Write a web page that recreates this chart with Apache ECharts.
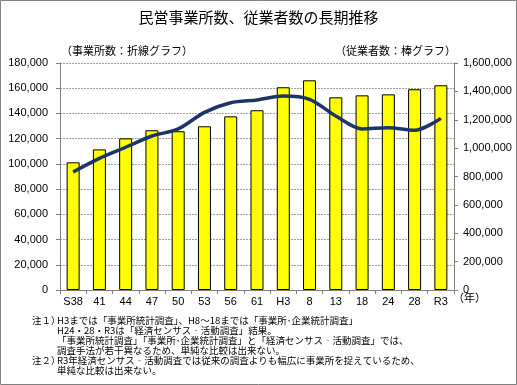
<!DOCTYPE html>
<html><head><meta charset="utf-8">
<script src="https://cdn.jsdelivr.net/npm/echarts@6/dist/echarts.min.js"></script>
<style>html,body{margin:0;padding:0;background:#fff}#c{width:517px;height:385px}</style>
</head><body><div id="c"></div>
<script>
const categories = ['S38','41','44','47','50','53','56','61','H3','8','13','18','24','28','R3'];
const establishments = [93600,104400,113200,122100,127700,140900,148500,150700,153800,151200,138000,127700,128700,126600,136100];
const employees = [900000,991000,1069000,1126000,1119000,1154000,1224000,1267000,1429000,1478000,1358000,1372000,1379000,1415000,1443000];
const leftTicks = {min:0,max:180000,interval:20000};
const rightTicks = {min:0,max:1600000,interval:200000};
const notes = [
 ['注１）','H3までは「事業所統計調査」、H8～18までは「事業所･企業統計調査」'],
 ['','H24・28・R3は「経済センサス‐活動調査」結果。'],
 ['','「事業所統計調査」「事業所･企業統計調査」と「経済センサス‐活動調査」では、'],
 ['','調査手法が若干異なるため、単純な比較は出来ない。'],
 ['注２）','R3年経済センサス‐活動調査では従来の調査よりも幅広に事業所を捉えているため、'],
 ['','単純な比較は出来ない。']
];
const FONT = '"Liberation Sans","Noto Sans CJK JP",sans-serif';
const JFONT = '"Noto Sans CJK JP",sans-serif';
const fmt = v => v.toLocaleString('en-US');
const chart = echarts.init(document.getElementById('c'));
const graphics = [
  {type:'rect',shape:{x:0.5,y:0.5,width:516,height:384},style:{fill:'none',stroke:'#808080',lineWidth:1},silent:true},
  {type:'text',left:'center',top:10,style:{text:'民営事業所数、従業者数の長期推移',font:'15px '+JFONT,fill:'#000'}},
  {type:'text',left:61,top:45,style:{text:'（事業所数：折線グラフ）',font:'11px '+JFONT,fill:'#000'}},
  {type:'text',left:335,top:45,style:{text:'（従業者数：棒グラフ）',font:'11px '+JFONT,fill:'#000'}},
  {type:'text',left:453,top:292,style:{text:'（年）',font:'11px '+JFONT,fill:'#000'}}
];
notes.forEach((n,i)=>{
  if(n[0]) graphics.push({type:'text',left:32,top:316+i*10,style:{text:n[0],font:'9.5px '+JFONT,fill:'#000'}});
  graphics.push({type:'text',left:57,top:316+i*10,style:{text:n[1],font:'9.5px '+JFONT,fill:'#000'}});
});
chart.setOption({
  animation:false,
  backgroundColor:'#fff',
  grid:{left:60,right:63,top:63,bottom:95},
  graphic:graphics,
  xAxis:{type:'category',data:categories,
    axisLine:{lineStyle:{color:'#808080'}},
    axisTick:{show:true,length:4,lineStyle:{color:'#808080'}},
    axisLabel:{color:'#000',fontSize:11,fontFamily:FONT,margin:6}},
  yAxis:[
    {type:'value',min:leftTicks.min,max:leftTicks.max,interval:leftTicks.interval,position:'left',
     axisLine:{show:true,lineStyle:{color:'#808080'}},
     axisTick:{show:true,length:4,lineStyle:{color:'#808080'}},
     axisLabel:{color:'#000',fontSize:11,fontFamily:FONT,margin:12,formatter:fmt},
     splitLine:{show:true,lineStyle:{color:'#a0a0a0',type:[2,1],width:1}}},
    {type:'value',min:rightTicks.min,max:rightTicks.max,interval:rightTicks.interval,position:'right',
     axisLine:{show:true,lineStyle:{color:'#808080'}},
     axisTick:{show:true,length:4,lineStyle:{color:'#808080'}},
     axisLabel:{color:'#000',fontSize:11,fontFamily:FONT,margin:9,formatter:fmt},
     splitLine:{show:false}}
  ],
  series:[
    {type:'bar',yAxisIndex:1,data:employees,barWidth:13,
     itemStyle:{color:'#ffff00',borderColor:'#000',borderWidth:1}},
    {type:'line',yAxisIndex:0,data:establishments,smooth:0.3,symbol:'none',
     lineStyle:{color:'#1c3468',width:3.5}}
  ]
});
</script></body></html>
